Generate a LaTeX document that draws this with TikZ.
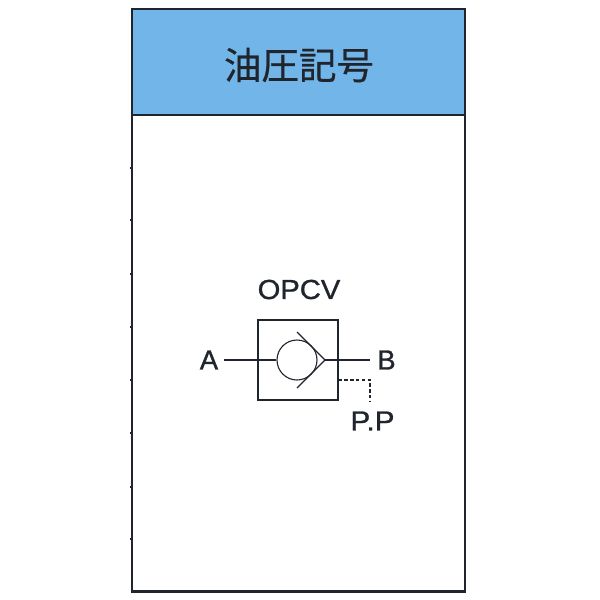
\documentclass[tikz,border=0pt]{standalone}
\usepackage{fontspec}
\setmainfont[FakeBold=1]{Liberation Sans}
\newfontfamily\cjk[FakeBold=0.6]{Noto Sans CJK JP}
\definecolor{headblue}{HTML}{72B6E9}
\definecolor{inkdark}{HTML}{20242C}
\tikzset{
  x=1pt,y=-1pt,
  frameline/.style={draw=inkdark,line width=2pt},
  symline/.style={draw=inkdark,line width=1.1pt},
  symheavy/.style={draw=inkdark,line width=1.3pt},
  lbl/.style={inner sep=0pt,text=inkdark,font=\fontsize{27.5}{27.5}\selectfont},
  tick/.style={draw=inkdark,line width=1.2pt}
}
\begin{document}
\begin{tikzpicture}
\useasboundingbox (0,0) rectangle (600,600);
\fill[white] (0,0) rectangle (600,600);
% table
\fill[headblue] (132,9) rectangle (465,115);
\draw[frameline] (132,9) rectangle (465,591);
\draw[frameline,line width=1.6pt] (132,115) -- (465,115);
\draw[frameline,line width=3pt] (131,591) -- (466,591);
\foreach \yy in {168,220,274,327,380,433,487,539}
  \draw[tick] (130,\yy) -- (133,\yy);
\node[inner sep=0pt,text=inkdark,font=\cjk\fontsize{37.5}{37.5}\selectfont] (title) at (299,65) {油圧記号};
% symbol
\node[draw=inkdark,line width=1.1pt,minimum size=80pt,inner sep=0pt] (box) at (298,360) {};
\node[circle,draw=inkdark,line width=1.1pt,minimum size=40pt,inner sep=0pt] (ball) at (297,360) {};
\coordinate (tip) at (325,360);
\coordinate (seatT) at (297,332);
\coordinate (seatB) at (297,388);
\coordinate (aend) at (224,360);
\coordinate (bend) at (370,360);
\coordinate (pstart) at (box.east |- 0,380);
\coordinate (pcorner) at (370,380);
\coordinate (pend) at (370,401);
\draw[symheavy] (seatT) -- (tip) -- (seatB);
\draw[symheavy] (aend) -- (ball.west);
\draw[symheavy] (tip) -- (bend);
\draw[symline,dash pattern=on 3.4pt off 2.4pt] (pstart) -- (pcorner) -- (pend);
\node[lbl,xscale=1.06] (opcv) at (299,289.5) {OPCV};
\node[lbl] (a) at (209,360) {A};
\node[lbl] (b) at (386.5,360) {B};
\node[lbl,xscale=1.08] (pp) at (372.5,421) {P.P};
\end{tikzpicture}
\end{document}
